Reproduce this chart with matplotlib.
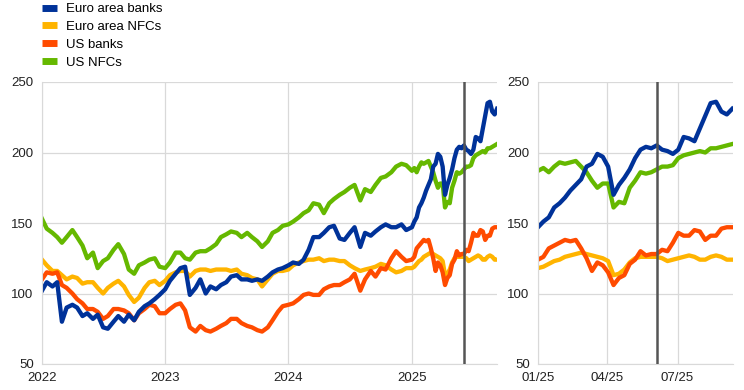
import matplotlib
matplotlib.use('Agg')
import matplotlib.pyplot as plt
import matplotlib.dates as mdates
from matplotlib.lines import Line2D
import pandas as pd

plt.rcParams['font.family'] = ['Liberation Sans', 'DejaVu Sans']

# semi-monthly readings 2022-2024, weekly readings for 2025
dates = pd.date_range('2022-01-01', '2024-12-15', freq='SMS').append(
    pd.date_range('2025-01-01', periods=37, freq='7D'))

ea_banks = [102, 108, 105, 108, 80, 90, 92, 90, 84, 86, 82, 85, 76, 75, 80, 84, 80, 85, 81, 87, 91, 93, 96, 99,
            103, 109, 114, 118, 119, 99, 104, 110, 100, 105, 103, 106, 108, 112, 113, 110, 110, 109, 110, 109, 112, 115, 117, 118,
            120, 122, 121, 124, 131, 140, 140, 143, 147, 148, 139, 138, 143, 147, 133, 143, 141, 144, 147, 149, 147, 147, 149, 145,
            147, 151, 154, 161, 164, 168, 173, 177, 181, 190, 192, 199, 197, 190, 170, 177, 182, 188,
            196, 202, 204, 203, 205, 202, 201, 199, 202, 211, 210, 208, 217, 226, 235, 236, 229, 227, 231]

ea_nfcs = [124, 120, 116, 116, 113, 110, 112, 111, 107, 108, 108, 104, 100, 104, 107, 109, 105, 99, 94, 97, 104, 108, 109, 106,
           109, 113, 115, 116, 116, 112, 116, 117, 117, 116, 117, 117, 117, 116, 117, 114, 113, 111, 110, 105, 110, 114, 116, 116,
           117, 120, 122, 123, 124, 124, 125, 123, 124, 124, 123, 123, 120, 118, 116, 117, 118, 119, 121, 120, 117, 115, 116, 118,
           118, 119, 121, 123, 124, 126, 127, 128, 129, 128, 127, 126, 125, 123, 113, 114, 117, 122,
           125, 126, 126, 126, 126, 125, 123, 124, 125, 126, 127, 126, 124, 124, 126, 127, 126, 124, 124]

us_banks = [110, 115, 114, 115, 106, 104, 100, 96, 93, 89, 89, 87, 82, 84, 89, 89, 88, 86, 81, 86, 89, 92, 91, 86,
            86, 89, 92, 93, 88, 76, 73, 77, 74, 73, 75, 77, 79, 82, 82, 79, 77, 76, 74, 73, 76, 81, 87, 91,
            92, 93, 96, 99, 100, 99, 99, 103, 105, 106, 106, 108, 110, 114, 102, 110, 116, 112, 118, 117, 125, 130, 126, 123,
            124, 126, 132, 134, 136, 138, 137, 138, 132, 125, 116, 122, 120, 115, 106, 111, 113, 121,
            124, 130, 127, 128, 128, 131, 130, 136, 143, 141, 141, 145, 144, 138, 141, 141, 146, 147, 147]

us_nfcs = [153, 146, 143, 140, 136, 140, 145, 140, 134, 125, 129, 118, 123, 125, 131, 135, 128, 117, 114, 120, 122, 124, 125, 119,
           118, 122, 129, 129, 125, 124, 129, 130, 130, 132, 135, 140, 142, 144, 143, 140, 143, 140, 137, 133, 137, 143, 145, 148,
           149, 151, 154, 157, 159, 164, 163, 157, 164, 167, 170, 172, 175, 177, 166, 174, 172, 177, 182, 183, 186, 190, 192, 191,
           187, 189, 186, 190, 193, 192, 193, 194, 190, 186, 180, 175, 178, 178, 161, 165, 164, 175,
           180, 186, 185, 186, 188, 190, 190, 191, 196, 198, 199, 200, 201, 200, 203, 203, 204, 205, 206]

labels = ['Euro area banks', 'Euro area NFCs', 'US banks', 'US NFCs']
colors = ['#003299', '#ffb400', '#ff4b00', '#65b800']
event_date = pd.Timestamp('2025-06-04')

df = pd.DataFrame({'date': dates, 'ea_banks': ea_banks, 'ea_nfcs': ea_nfcs,
                   'us_banks': us_banks, 'us_nfcs': us_nfcs})

fig = plt.figure(figsize=(7.44, 3.9), dpi=100)
ax1 = fig.add_axes([42 / 744, 26 / 390, 455 / 744, 282 / 390])
ax2 = fig.add_axes([538 / 744, 26 / 390, 195 / 744, 282 / 390])

grid_c = '#d9d9d9'
for ax, sub in [(ax1, df), (ax2, df[df['date'] >= '2025-01-01'])]:
    # green first so blue ends up on top like the original
    for c, col in zip(['#65b800', '#ffb400', '#ff4b00', '#003299'], ['us_nfcs', 'ea_nfcs', 'us_banks', 'ea_banks']):
        ax.plot(sub['date'], sub[col], color=c, lw=3.1, solid_joinstyle='round')
    ax.axvline(event_date, color='#555555', lw=1.8, zorder=5)
    ax.set_ylim(50, 250)
    ax.set_yticks([50, 100, 150, 200, 250])
    ax.grid(True, color=grid_c, lw=0.9)
    ax.set_axisbelow(True)
    for s in ['top', 'right']:
        ax.spines[s].set_visible(False)
    for s in ['left', 'bottom']:
        ax.spines[s].set_color(grid_c)
    ax.tick_params(length=0, labelsize=9.5, colors='#222222', pad=6)

ax1.set_xlim(pd.Timestamp('2022-01-01'), pd.Timestamp('2025-09-10'))
ax1.xaxis.set_major_locator(mdates.YearLocator())
ax1.xaxis.set_major_formatter(mdates.DateFormatter('%Y'))

ax2.set_xlim(pd.Timestamp('2025-01-01'), pd.Timestamp('2025-09-11'))
ax2.set_xticks(pd.to_datetime(['2025-01-01', '2025-04-01', '2025-07-01']))
ax2.xaxis.set_major_formatter(mdates.DateFormatter('%m/%y'))

handles = [Line2D([], [], color=c, lw=5, solid_capstyle='butt') for c in colors]
fig.legend(handles, labels, loc='upper left', bbox_to_anchor=(0.05, 1.006), frameon=False,
           fontsize=9.5, handlelength=1.1, handletextpad=0.7, labelspacing=0.42, borderaxespad=0)

fig.savefig('out.png', dpi=100)
